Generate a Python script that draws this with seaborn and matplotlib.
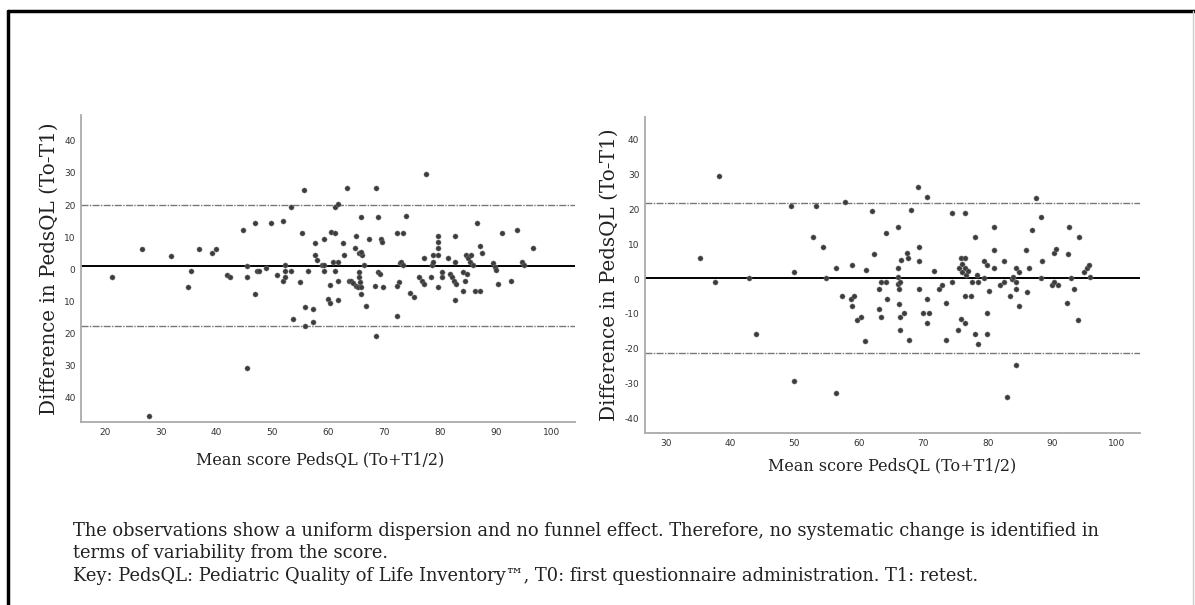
import numpy as np
import pandas as pd
import matplotlib
matplotlib.use('Agg')
import matplotlib.pyplot as plt
import seaborn as sns
from matplotlib.lines import Line2D

# Left panel: mean score vs difference
left_mean = [21.3, 26.7, 27.8, 31.8, 34.8, 35.4, 36.8, 39.1, 39.8, 41.9, 42.4, 44.8, 45.4, 45.4,
             45.4, 46.8, 46.8, 47.2, 47.6, 48.8, 49.7, 50.8, 51.8, 51.8, 52.2, 52.3, 52.3, 53.3,
             53.3, 53.7, 54.9, 55.3, 55.6, 55.8, 55.8, 56.3, 57.3, 57.3, 57.7, 57.7, 58.0, 58.9,
             59.2, 59.3, 59.3, 60.0, 60.3, 60.3, 60.5, 60.8, 61.2, 61.2, 61.2, 61.7, 61.8, 61.8,
             61.8, 62.7, 62.8, 63.3, 63.7,
             64.9, 64.8, 65.5, 66.1, 65.8, 65.8, 65.5, 65.5, 64.0, 64.4, 64.9, 65.3, 65.7, 65.8,
             65.9, 66.8, 66.4, 67.3, 68.5, 68.3, 68.5, 68.9, 69.2, 68.9, 69.4, 69.7, 69.8, 72.3,
             72.3, 72.6, 72.3, 72.9, 73.1, 73.4, 73.4, 74.0, 74.7, 75.3, 76.3, 76.7, 77.1, 77.2,
             77.5, 78.4, 78.6, 78.8, 78.8, 79.7, 79.7, 79.7, 79.7, 79.7, 80.4, 80.4, 81.4, 81.8,
             82.1, 82.6, 82.9, 82.7, 82.7, 82.7, 84.2, 84.4, 84.8, 84.2, 84.7, 85.1, 85.4, 85.6,
             85.9, 86.3, 87.2, 86.7, 87.2, 87.5, 89.5, 89.8, 90.1, 90.4, 91.2, 92.7, 93.8, 94.7,
             95.1, 96.6]
left_diff = [-2.5, 6.4, -45.5, 4.2, -5.6, -0.6, 6.4, 5.0, 6.4, -1.7, -2.5, 12.2, 1.0, -2.5,
             -30.6, 14.3, -7.7, -0.6, -0.6, 0.4, 14.3, -1.7, 15.0, -3.6, 1.2, -0.6, -2.5, -0.6,
             19.5, -15.5, -3.9, 11.4, 24.7, -11.6, -17.6, -0.6, -12.4, -16.5, 8.3, 4.3, 2.9, 1.2,
             9.3, -0.6, 1.2, -9.1, -10.4, -4.8, 11.7, 2.3, 11.4, -0.6, 19.3, 20.3, -3.6, -9.7,
             2.3, 8.3, 4.3, 25.2, -3.6,
             10.5, 6.5, 5.2, 4.5, 5.5, 16.4, -0.7, -2.3, -3.6, -4.3, -5.1, -5.6, -4.1, -5.4,
             -7.7, -11.4, 1.3, 9.4, 25.2, -5.1, -20.6, -0.7, -1.4, 16.4, 9.4, 8.4, -5.6, 11.4,
             -14.5, -4.0, -5.1, 2.1, 2.4, 1.3, 11.4, 16.7, -7.5, -8.5, -2.3, -3.6, -4.6, 3.4,
             29.8, -2.3, 1.3, 2.4, 4.5, 10.5, 8.4, 6.7, 4.5, -5.4, -0.7, -2.3, 3.4, -1.4,
             -2.3, -3.6, -4.6, 10.5, 2.4, -9.5, -0.7, -3.6, -1.4, -6.6, 4.5, 3.4, 2.4, 4.5,
             1.3, -6.6, -6.6, 14.3, 7.3, 5.0, 2.1, 0.8, -0.2, -4.6, 11.4, -3.6, 12.2, 2.4,
             1.3, 6.7]
left_lines = [1.1, 19.9, -17.7]  # mean, upper and lower limits of agreement

# Right panel
right_mean = [35.3, 37.6, 38.3, 42.9, 44.0, 49.4, 49.9, 49.9, 52.9, 53.3, 54.4, 54.9, 56.4, 56.4,
              57.3, 57.8, 58.7, 58.9, 58.9, 59.3, 59.7, 60.4, 60.9, 61.1, 62.1, 62.3, 63.1, 63.1,
              63.4, 63.4, 64.2, 64.2, 64.3,
              66.1, 66.1, 66.0, 66.1, 66.2, 66.4, 66.2, 66.4, 66.4, 66.6, 67.0, 67.4, 67.6, 67.7,
              68.1, 69.1, 69.4, 69.4, 69.4, 69.9, 70.5, 70.5, 70.5, 70.9, 71.7, 72.5, 72.9, 73.5,
              73.5, 74.4, 74.4, 75.4, 75.5, 75.8, 76.0, 76.0, 76.4, 76.4, 76.6, 77.0, 75.9, 76.4,
              76.4, 76.4, 77.4, 77.5, 78.0, 78.0, 78.4, 78.5, 78.5, 79.4, 79.4, 79.9, 79.9, 79.9,
              80.2, 80.9, 81.0, 81.0, 81.9, 82.5, 82.5, 83.0, 83.4, 83.7, 83.9, 84.3, 84.3, 84.3,
              84.4, 84.9, 84.9, 85.9, 86.1, 86.4, 86.8, 87.4, 88.2, 88.3, 88.4, 90.0, 90.3, 90.9,
              90.3, 90.6, 92.3, 92.4, 92.6, 92.9, 93.4, 94.0, 94.1, 94.9, 95.4, 95.7, 95.9]
right_diff = [6.0, -0.9, 29.6, 0.2, -15.8, 21.1, 2.1, -29.3, 12.1, 21.1, 9.1, 0.2, 3.2, -32.9,
              -4.8, 22.2, -5.8, -7.8, 4.1, -4.8, -11.7, -10.8, -17.9, 2.6, 19.6, 7.2, -2.8, -8.7,
              -0.9, -10.8, 13.2, -0.9, -5.8,
              14.9, 3.2, 0.5, -1.4, -2.9, -0.8, -7.2, -10.9, -14.7, 5.5, -9.9, 7.4, 6.1, -17.6,
              19.9, 26.6, 9.3, 5.1, -2.8, -9.9, -12.8, 23.7, -5.8, -9.9, 2.4, -2.8, -1.8, -6.8,
              -17.6, 19.1, -0.9, -14.7, 3.2, 6.1, 4.3, 1.9, 6.0, 3.2, 1.2, 2.2, -11.6, -12.6,
              19.1, -4.8, -4.8, -0.9, 12.2, -15.7, 1.2, -0.9, -18.7, 5.3, 0.3, 4.1, -9.9, -15.7,
              -3.4, 14.9, 8.4, 3.2, -1.8, -0.9, 5.1, -33.9, -4.8, 0.1, 0.5, -0.9, 3.2, -2.8,
              -24.8, 2.0, -7.8, 8.4, -3.6, 3.2, 14.1, 23.2, 17.8, 0.3, 5.1, -1.8, -0.9, -1.8,
              7.6, 8.7, -6.8, 7.2, 14.9, 0.3, -2.8, -11.8, 12.0, 2.0, 3.2, 4.1, 0.5]
right_lines = [0.3, 22.0, -21.4]

left_xticks = [20, 30, 40, 50, 60, 70, 80, 90, 100]
right_xticks = [30, 40, 50, 60, 70, 80, 90, 100]
yticks = [40, 30, 20, 10, 0, -10, -20, -30, -40]
left_ylabels = ['40', '30', '20', '10', '0', '10', '20', '30', '40']
right_ylabels = ['40', '30', '20', '10', '0', '-10', '-20', '-30', '-40']

xlabel = 'Mean score PedsQL (To+T1/2)'
ylabel = 'Difference in PedsQL (To-T1)'
caption = ['The observations show a uniform dispersion and no funnel effect. Therefore, no systematic change is identified in',
           'terms of variability from the score.',
           'Key: PedsQL: Pediatric Quality of Life Inventory\u2122, T0: first questionnaire administration. T1: retest.']

sns.set_style('white')
plt.rcParams['font.family'] = ['DejaVu Serif']

fig = plt.figure(figsize=(11.95, 6.05), dpi=100)
ax1 = fig.add_axes([0.0678, 0.3025, 0.4134, 0.5074])
ax2 = fig.add_axes([0.5397, 0.2843, 0.4142, 0.5223])

panels = [
    (ax1, left_mean, left_diff, left_lines, left_xticks, left_ylabels, (15.7, 104.2), (-47.5, 48)),
    (ax2, right_mean, right_diff, right_lines, right_xticks, right_ylabels, (26.8, 103.6), (-44.3, 46.6)),
]

for ax, xm, yd, lines, xt, ylab, xl, yl in panels:
    df = pd.DataFrame({'mean': xm, 'diff': yd})
    ax.axhline(lines[0], color='black', lw=1.4, zorder=1)
    for v in lines[1:]:
        ax.axhline(v, color='#777777', lw=1.0, ls=(0, (5, 1, 1, 1)), zorder=1)
    sns.scatterplot(data=df, x='mean', y='diff', ax=ax, color='#3c3c3c', s=14,
                    linewidth=0.3, edgecolor='#888888', zorder=2)
    ax.set_xlim(*xl)
    ax.set_ylim(*yl)
    ax.set_xticks(xt)
    ax.set_xticklabels([str(t) for t in xt], family='DejaVu Sans', fontsize=6.5, color='#333333')
    ax.set_yticks(yticks)
    ax.set_yticklabels(ylab, family='DejaVu Sans', fontsize=6.5, color='#333333')
    ax.tick_params(length=0, pad=4)
    for s in ['top', 'right']:
        ax.spines[s].set_visible(False)
    for s in ['left', 'bottom']:
        ax.spines[s].set_color('#aaaaaa')
        ax.spines[s].set_linewidth(1.3)
    ax.set_xlabel(xlabel, fontsize=11.5, color='#222222')
    ax.set_ylabel(ylabel, fontsize=14.3, labelpad=4, color='#222222')

ax1.xaxis.set_label_coords(0.485, -0.095)
ax2.xaxis.set_label_coords(0.5, -0.078)

for i, line in enumerate(caption):
    fig.text(0.061, 1 - (531 + 22.5 * i) / 605, line, fontsize=12.9, va='center', ha='left',
             color='#222222')

# outer frame
fig.add_artist(Line2D([8 / 1195, 1], [1 - 11 / 605, 1 - 11 / 605], color='black', lw=2.5,
                      transform=fig.transFigure))
fig.add_artist(Line2D([8 / 1195, 8 / 1195], [0, 1 - 11 / 605], color='black', lw=2.5,
                      transform=fig.transFigure))
fig.add_artist(Line2D([1193 / 1195, 1193 / 1195], [0, 1 - 11 / 605], color='#cccccc', lw=1,
                      transform=fig.transFigure))

fig.savefig('out.png', dpi=100)
